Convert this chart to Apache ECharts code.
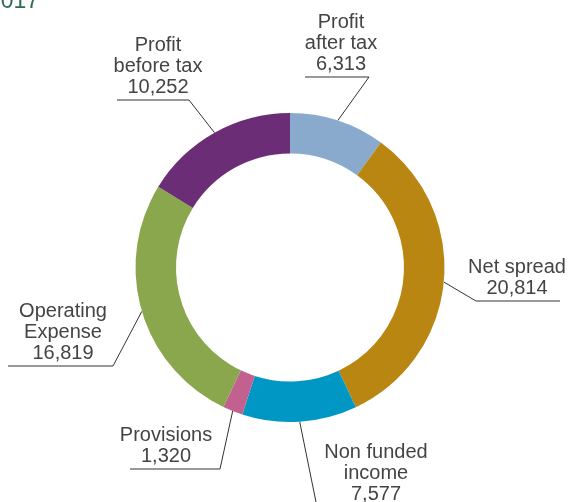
<!DOCTYPE html>
<html>
<head>
<meta charset="utf-8">
<script src="https://cdn.jsdelivr.net/npm/echarts@6/dist/echarts.min.js"></script>
<style>
  html, body { margin: 0; padding: 0; background: #fff; }
  #chart { width: 573px; height: 502px; }
</style>
</head>
<body>
<div id="chart"></div>
<script>
// data, clockwise from 12 o'clock
const categories = ['Profit after tax', 'Net spread', 'Non funded income', 'Provisions', 'Operating Expense', 'Profit before tax']
const labelNames = ['Profit\nafter tax', 'Net spread', 'Non funded\nincome', 'Provisions', 'Operating\nExpense', 'Profit\nbefore tax']
const values = [6313, 20814, 7577, 1320, 16819, 10252]
const colors = ['#89aacd', '#b98612', '#0097c4', '#c2618f', '#8aa74d', '#6b2e76']

// where each label sits: text centre x, underline y, bend x, far end x
const labelSpots = [
  { tx: 341, uy: 77, bx: 369, ex: 305 },
  { tx: 517, uy: 301, bx: 476, ex: 560 },
  { tx: 376, uy: 507, bx: 317, ex: 435 },
  { tx: 166, uy: 469, bx: 220, ex: 130 },
  { tx: 63, uy: 366, bx: 113, ex: 8 },
  { tx: 158, uy: 100, bx: 189, ex: 117 }
]

const chart = echarts.init(document.getElementById('chart'))

chart.setOption({
  animation: false,
  title: {
    text: '2017',
    left: -12,
    top: -10,
    padding: 0,
    textStyle: {
      fontFamily: 'Liberation Sans',
      fontSize: 23,
      fontWeight: 'normal',
      lineHeight: 23,
      color: '#2e6b4f'
    }
  },
  series: [
    {
      type: 'pie',
      center: [290, 267.5],
      radius: [114, 154.5],
      startAngle: 90,
      clockwise: true,
      avoidLabelOverlap: false,
      emphasis: { disabled: true },
      itemStyle: { borderWidth: 0 },
      label: {
        show: true,
        position: 'outside',
        fontFamily: 'Liberation Sans',
        fontSize: 20,
        lineHeight: 21,
        color: '#444',
        formatter: p => labelNames[p.dataIndex] + '\n' + p.value.toLocaleString('en-US')
      },
      labelLine: {
        show: true,
        lineStyle: { color: '#333', width: 1 }
      },
      labelLayout: params => {
        const s = labelSpots[params.dataIndex]
        const start = params.labelLinePoints[0]
        return {
          x: s.tx,
          y: s.uy - 2,
          align: 'center',
          verticalAlign: 'bottom',
          labelLinePoints: [start, [s.bx, s.uy], [s.ex, s.uy]]
        }
      },
      data: categories.map((name, i) => ({
        name: name,
        value: values[i],
        itemStyle: { color: colors[i] }
      }))
    }
  ]
})
</script>
</body>
</html>
